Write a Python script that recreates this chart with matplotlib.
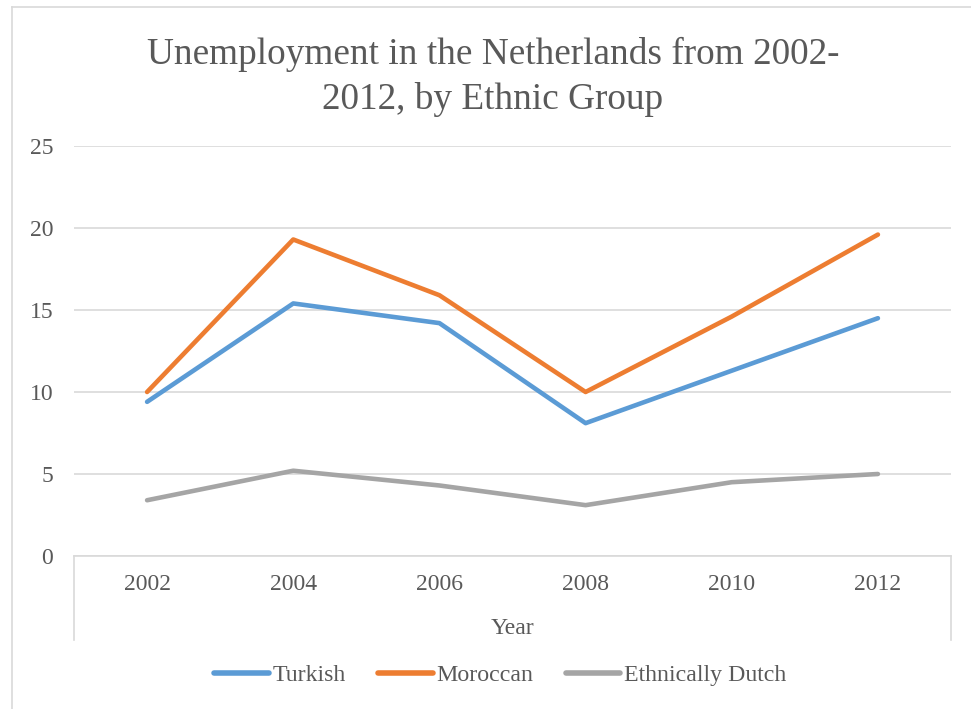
import matplotlib
matplotlib.use("Agg")
import matplotlib.pyplot as plt
from matplotlib.lines import Line2D

years = ["2002", "2004", "2006", "2008", "2010", "2012"]
turkish = [9.4, 15.4, 14.2, 8.1, 11.3, 14.5]
moroccan = [10.0, 19.3, 15.9, 10.0, 14.6, 19.6]
dutch = [3.4, 5.2, 4.3, 3.1, 4.5, 5.0]
series_names = ["Turkish", "Moroccan", "Ethnically Dutch"]
yticks = [0, 5, 10, 15, 20, 25]

colors = ["#5B9BD5", "#ED7D31", "#A5A5A5"]
txt = "#595959"
grid = "#D9D9D9"
W, H = 971, 709
plt.rcParams['font.family'] = ['Liberation Serif', 'DejaVu Serif']

fig = plt.figure(figsize=(W / 100, H / 100), dpi=100)
fig.patch.set_facecolor("white")

# chart border (partially visible)
fig.add_artist(Line2D([12 / W, 12 / W], [0, 1 - 7 / H], color=grid, lw=1.2, transform=fig.transFigure))
fig.add_artist(Line2D([12 / W, 1], [1 - 7 / H, 1 - 7 / H], color=grid, lw=1.2, transform=fig.transFigure))

L, R, T, B = 74, 951, 146, 556
ax = fig.add_axes([L / W, 1 - B / H, (R - L) / W, (B - T) / H])
x = list(range(len(years)))
for vals, c, n in zip([turkish, moroccan, dutch], colors, series_names):
    ax.plot(x, vals, color=c, lw=3.3, solid_capstyle="round", solid_joinstyle="round", label=n, zorder=3)

ax.set_xlim(-0.5, len(years) - 0.5)
ax.set_ylim(0, 25)
ax.set_yticks(yticks)
ax.set_yticklabels([str(v) for v in yticks])
ax.set_xticks(x)
ax.set_xticklabels(years)
for s in ["top", "right", "left"]:
    ax.spines[s].set_visible(False)
ax.spines["bottom"].set_color(grid)
ax.spines["bottom"].set_linewidth(1.2)
ax.yaxis.grid(True, color=grid, lw=1.2)
ax.set_axisbelow(True)
ax.tick_params(axis="y", length=0, pad=15, labelsize=17, labelcolor=txt)
ax.tick_params(axis="x", length=0, pad=13, labelsize=17, labelcolor=txt)

# category-axis end ticks extending downward
ext = (640 - B) / (B - T)
for xx in (0, 1):
    ax.add_line(Line2D([xx, xx], [0, -ext], color=grid, lw=1.2, transform=ax.transAxes, clip_on=False))

fig.text((L + R) / 2 / W, 1 - 628 / H, "Year", ha="center", va="center", fontsize=17, color=txt)

fig.text(493 / W, 1 - 77 / H, "Unemployment in the Netherlands from 2002-\n2012, by Ethnic Group",
         ha="center", va="center", fontsize=26.8, color=txt, linespacing=1.37)

handles, labels = ax.get_legend_handles_labels()
leg = fig.legend(handles, labels, ncol=3, loc="center", bbox_to_anchor=(500 / W, 1 - 675 / H),
                 frameon=False, fontsize=17.2, handlelength=2.3, handletextpad=0.15,
                 columnspacing=1.35, labelcolor=txt)
for h in leg.get_lines():
    h.set_linewidth(4)

fig.savefig("out.png", dpi=100, facecolor="white")
